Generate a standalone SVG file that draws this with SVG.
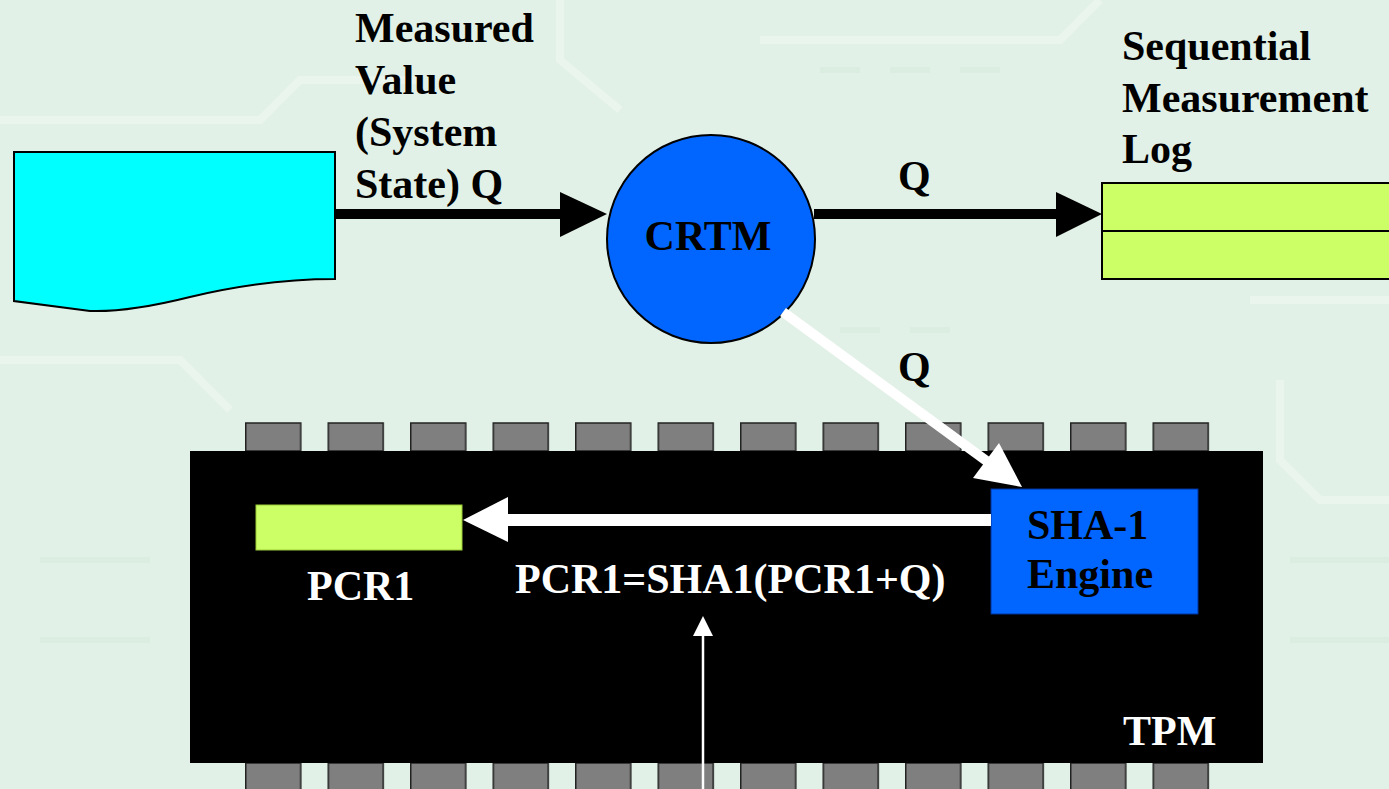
<svg xmlns="http://www.w3.org/2000/svg" width="1389" height="789" viewBox="0 0 1389 789">
<style>
.t{font-family:"Liberation Serif","Times New Roman",serif;font-weight:bold;font-size:42px;fill:#000}
.w{fill:#fff}
.pin{fill:#7f7f7f;stroke:#222;stroke-width:1.5}
.trace{fill:none;stroke:#f2faf5;stroke-width:8;opacity:0.5}
.trace2{fill:none;stroke:#d3e6da;stroke-width:6;opacity:0.45}
</style>
<defs>
<pattern id="pins" x="245" y="0" width="82.5" height="789" patternUnits="userSpaceOnUse">
<rect class="pin" x="0.75" y="423" width="55" height="28"/>
<rect class="pin" x="0.75" y="763" width="55" height="30"/>
</pattern>
</defs>
<g id="background">
<rect width="1389" height="789" fill="#e2f1e7"/>
<path class="trace" d="M0,120 H260 L300,80 H420 M560,0 V60 L620,110 M760,40 H1060 L1100,0 M0,360 H180 L230,410 M1250,300 H1389 M1280,380 V460 L1320,500 H1389"/>
<path class="trace2" d="M40,560 H150 M40,640 H150 M1290,560 H1389 M1290,640 H1389 M820,70 h40 m30,0 h40 m30,0 h40 M840,330 h40 m30,0 h40"/>
</g>
<g id="tpm">
<rect x="245" y="420" width="990" height="369" fill="url(#pins)"/>
<rect x="190" y="451" width="1073" height="312" fill="#000"/>
<text class="t w" x="1123" y="745">TPM</text>
</g>
<g id="system-state">
<path d="M14,152 H335 V279 C290,279 240,285 190,297 C150,307 120,312 90,311 L14,301 Z" fill="#00ffff" stroke="#000" stroke-width="2"/>
</g>
<g id="crtm">
<circle cx="711" cy="239" r="104" fill="#0066ff" stroke="#000" stroke-width="2"/>
<text class="t" x="708" y="250" text-anchor="middle">CRTM</text>
</g>
<g id="log">
<rect x="1102" y="183" width="300" height="96" fill="#ccff66" stroke="#000" stroke-width="2"/>
<line x1="1102" y1="231" x2="1389" y2="231" stroke="#000" stroke-width="2"/>
</g>
<g id="sha1">
<rect x="991" y="489" width="207" height="125" fill="#0066ff" stroke="#003399" stroke-width="1"/>
<text class="t" x="1027" y="539">SHA-1</text>
<text class="t" x="1027" y="588">Engine</text>
</g>
<g id="pcr1">
<rect x="256" y="505" width="206" height="45" fill="#ccff66" stroke="#99cc33" stroke-width="1"/>
<text class="t w" x="307" y="600">PCR1</text>
</g>
<g id="connectors">
<line x1="335" y1="214" x2="562" y2="214" stroke="#000" stroke-width="10"/>
<polygon points="560,192 607,214 560,237" fill="#000"/>
<line x1="814" y1="214" x2="1058" y2="214" stroke="#000" stroke-width="10"/>
<polygon points="1056,192 1102,214 1056,237" fill="#000"/>
<line x1="783" y1="312" x2="988" y2="462" stroke="#fff" stroke-width="10"/>
<polygon points="1022,487 973,478 999,443" fill="#fff"/>
<line x1="991" y1="520" x2="506" y2="520" stroke="#fff" stroke-width="12"/>
<polygon points="463,520 508,497 508,542" fill="#fff"/>
<line x1="703" y1="789" x2="703" y2="634" stroke="#fff" stroke-width="2.5"/>
<polygon points="703,616 713,636 693,636" fill="#fff"/>
</g>
<g id="labels">
<text class="t" x="355" y="42">Measured</text>
<text class="t" x="355" y="94">Value</text>
<text class="t" x="355" y="146">(System</text>
<text class="t" x="355" y="198">State) Q</text>
<text class="t" x="1122" y="60">Sequential</text>
<text class="t" x="1122" y="112">Measurement</text>
<text class="t" x="1122" y="163">Log</text>
<text class="t" x="898" y="190">Q</text>
<text class="t" x="898" y="381">Q</text>
<text class="t w" x="515" y="593" font-size="40">PCR1=SHA1(PCR1+Q)</text>
</g>
</svg>
